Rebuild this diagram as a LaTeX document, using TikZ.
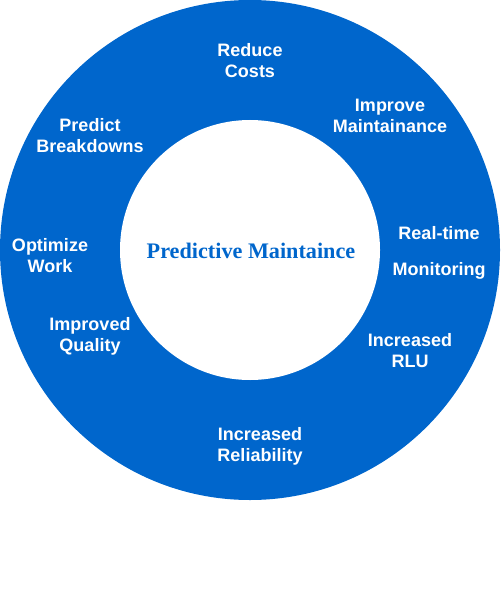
\documentclass[tikz,border=0pt]{standalone}
\usepackage{fontspec}
\setmainfont{Liberation Serif}
\setsansfont{Liberation Sans}
\usepackage{tikz}
\definecolor{ringblue}{HTML}{0066CC}
\tikzset{
  benefit/.style={font=\sffamily\bfseries\fontsize{18}{21}\selectfont, text=white, align=center, inner sep=0pt},
  hub/.style={font=\rmfamily\bfseries\fontsize{22.2}{26}\selectfont, text=ringblue, inner sep=0pt}
}
\begin{document}
\begin{tikzpicture}[x=1pt,y=-1pt]
    \useasboundingbox (0,0) rectangle (501,612);
    % ring
    \fill[ringblue] (250,250) circle (250);
    \fill[white] (250,250) circle (130);
    \node[hub] (pm) at (251,251) {Predictive Maintaince};
    % benefits round the ring
    \node[benefit] (cost) at (250,60.5) {Reduce\\Costs};
    \node[benefit] (maint) at (390,116) {Improve\\Maintainance};
    \node[benefit] (mon) at (439,252.5) {Real-time\\[15pt]Monitoring};
    \node[benefit] (rlu) at (410,351) {Increased\\RLU};
    \node[benefit] (rel) at (260,446) {Increased\\Reliability};
    \node[benefit] (qual) at (90,336) {Improved\\Quality};
    \node[benefit] (work) at (50,256) {Optimize\\Work};
    \node[benefit] (brk) at (90,136) {Predict\\Breakdowns};
\end{tikzpicture}
\end{document}
